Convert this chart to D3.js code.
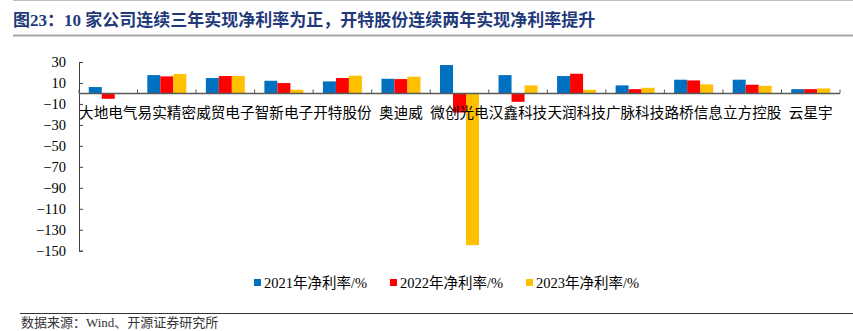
<!DOCTYPE html>
<html>
<head>
<meta charset="utf-8">
<script src="https://cdn.jsdelivr.net/npm/d3@7"></script>
<style>
  body { margin: 0; background: #fff; }
  svg { display: block; font-family: "Liberation Serif", "Noto Sans CJK SC", serif; }
</style>
</head>
<body>
<svg width="853" height="331"></svg>
<script>
// Chart data
const companies = ["大地电气", "易实精密", "威贸电子", "智新电子", "开特股份", "奥迪威", "微创光电",
                   "汉鑫科技", "天润科技", "广脉科技", "路桥信息", "立方控股", "云星宇"];
const seriesNames = ["2021年净利率/%", "2022年净利率/%", "2023年净利率/%"];
const margin2021 = [6.1, 17.5, 14.7, 12.1, 11.5, 14.0, 27.1, 17.5, 16.6, 7.7, 13.1, 13.1, 4.1];
const margin2022 = [-5.1, 16.3, 16.6, 9.9, 14.7, 13.7, -18.2, -8.0, 18.8, 4.1, 12.4, 8.3, 4.1];
const margin2023 = [0.4, 18.5, 16.6, 3.5, 16.9, 16.0, -144.7, 7.7, 3.5, 5.4, 8.6, 7.3, 4.8];
const yTicks = [30, 10, -10, -30, -50, -70, -90, -110, -130, -150];
const colors = ["#0070C0", "#FF0000", "#FFC000"];

const seriesValues = [margin2021, margin2022, margin2023];

const svg = d3.select("svg");

// Header and footer rules
svg.append("line").attr("x1", 13).attr("x2", 853).attr("y1", 0.5).attr("y2", 0.5)
    .attr("stroke", "#bfbfbf").attr("stroke-width", 1);
svg.append("text")
    .attr("x", 13).attr("y", 26)
    .attr("font-size", 17).attr("font-weight", "bold")
    .attr("fill", "#1f3a7a")
    .text("图23：10 家公司连续三年实现净利率为正，开特股份连续两年实现净利率提升");
svg.append("line").attr("x1", 13).attr("x2", 853).attr("y1", 35.5).attr("y2", 35.5)
    .attr("stroke", "#a6a6a6").attr("stroke-width", 2);

svg.append("line").attr("x1", 20).attr("x2", 853).attr("y1", 313.5).attr("y2", 313.5)
    .attr("stroke", "#333").attr("stroke-width", 1);
svg.append("text")
    .attr("x", 21).attr("y", 327)
    .attr("font-size", 13).attr("fill", "#333")
    .text("数据来源：Wind、开源证券研究所");

// Scales
const x = d3.scaleBand().domain(companies).range([79, 840]);
const xInner = d3.scaleBand().domain(d3.range(3))
    .range([x.bandwidth() * 0.167, x.bandwidth() * 0.833]);
const y = d3.scaleLinear().domain([-150, 30]).range([250.7, 62]);

// Bars
const groups = svg.append("g").selectAll("g")
    .data(companies)
    .join("g")
    .attr("transform", d => `translate(${x(d)},0)`);

groups.selectAll("rect")
    .data((d, i) => seriesValues.map((s, k) => ({ k: k, v: s[i] })))
    .join("rect")
    .attr("x", d => xInner(d.k))
    .attr("width", xInner.bandwidth())
    .attr("y", d => y(Math.max(0, d.v)))
    .attr("height", d => Math.abs(y(d.v) - y(0)))
    .attr("fill", d => colors[d.k]);

// Y axis
const yAxis = svg.append("g")
    .attr("transform", "translate(79,0)")
    .call(d3.axisRight(y).tickValues(yTicks).tickSize(4).tickFormat(d3.format("d")));
yAxis.select(".domain").attr("stroke", "#404040");
yAxis.selectAll(".tick line").attr("stroke", "#404040");
yAxis.selectAll(".tick text")
    .attr("x", -13).attr("text-anchor", "end")
    .attr("font-size", 14.5).attr("fill", "#000")
    .attr("font-family", "Liberation Serif");

// X axis (zero line with upward ticks at category boundaries)
svg.append("line")
    .attr("x1", x.range()[0]).attr("x2", x.range()[1])
    .attr("y1", y(0)).attr("y2", y(0))
    .attr("stroke", "#595959").attr("stroke-width", 1.5);
svg.append("g").selectAll("line")
    .data(companies.concat([null]))
    .join("line")
    .attr("x1", (d, i) => d === null ? x.range()[1] : x(d))
    .attr("x2", (d, i) => d === null ? x.range()[1] : x(d))
    .attr("y1", y(0)).attr("y2", y(0) - 4)
    .attr("stroke", "#595959");

// Category labels
svg.append("g").selectAll("text")
    .data(companies)
    .join("text")
    .attr("x", d => x(d) + x.bandwidth() / 2)
    .attr("y", 118)
    .attr("text-anchor", "middle")
    .attr("font-size", 14.6)
    .attr("font-family", "Noto Sans CJK SC")
    .attr("fill", "#000")
    .text(d => d);

// Legend
const legendX = [254, 390, 526];
const legend = svg.append("g").selectAll("g")
    .data(seriesNames)
    .join("g")
    .attr("transform", (d, i) => `translate(${legendX[i]},283)`);
legend.append("rect")
    .attr("x", 0).attr("y", -4).attr("width", 7).attr("height", 7)
    .attr("fill", (d, i) => colors[i]);
legend.append("text")
    .attr("x", 10).attr("y", 5)
    .attr("font-size", 14.5).attr("fill", "#000")
    .text(d => d);
</script>
</body>
</html>
